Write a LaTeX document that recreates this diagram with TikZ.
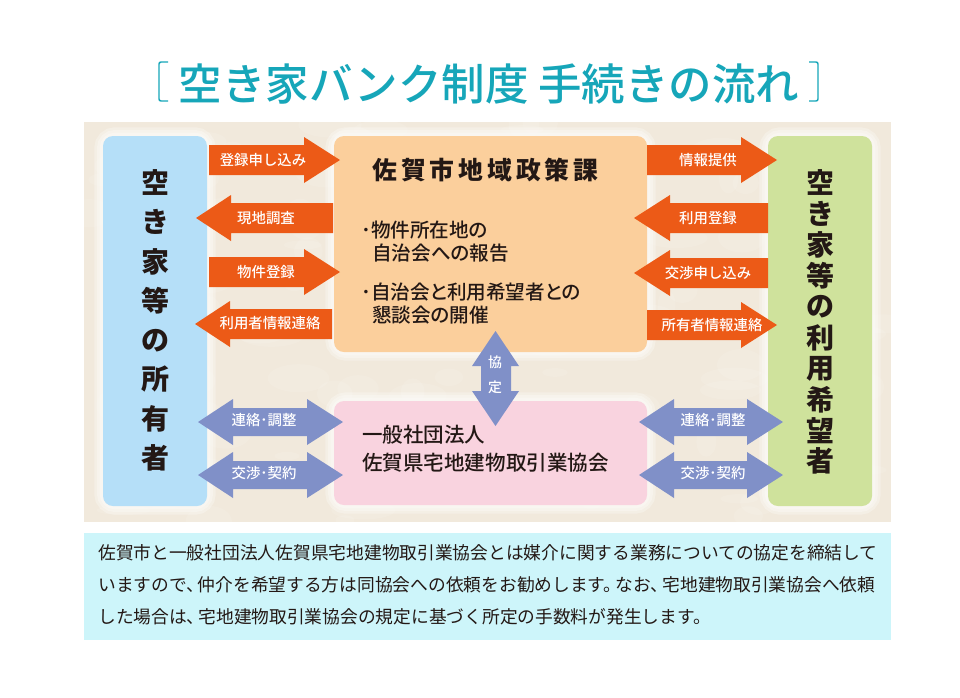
\documentclass[tikz,border=0pt]{standalone}
\usepackage{fontspec}
\setmainfont{Noto Sans CJK JP}
\newfontfamily\medfont{Noto Sans CJK JP Medium}
\definecolor{paper}{HTML}{F1E9DC}
\definecolor{titlec}{HTML}{16A6B9}
\definecolor{ownerc}{HTML}{B5DFF8}
\definecolor{cityc}{HTML}{FBCF9C}
\definecolor{assocc}{HTML}{F9D3DF}
\definecolor{userc}{HTML}{CFE29C}
\definecolor{noteC}{HTML}{CDF5FA}
\definecolor{orangeA}{HTML}{EC5A17}
\definecolor{blueA}{HTML}{8090C8}
\definecolor{inkc}{HTML}{231815}
\newcommand{\fs}[1]{\fontsize{#1}{#1}\selectfont}
\newcommand{\pn}{\hspace{-4.6pt}}
\newcommand{\blockarrow}[5]{% cy, tail, base, tip, colour
  \fill[#5] (#2,#1-15) -- (#3,#1-15) -- (#3,#1-23) -- (#4,#1) -- (#3,#1+23) -- (#3,#1+15) -- (#2,#1+15) -- cycle;}
\newcommand{\twoway}[6]{% cy, tipL, baseL, baseR, tipR, colour
  \fill[#6] (#2,#1) -- (#3,#1-23) -- (#3,#1-14) -- (#4,#1-14) -- (#4,#1-23) -- (#5,#1) -- (#4,#1+23) -- (#4,#1+14) -- (#3,#1+14) -- (#3,#1+23) -- cycle;}
\tikzset{
  panel/.style={rounded corners=7.5pt,inner sep=0pt,outer sep=0pt},
  arrowlabel/.style={text=white,font=\medfont\fs{10.8},inner sep=0pt},
  bigchar/.style={text=inkc,font=\fs{21}\bfseries,inner sep=0pt},
  bodytext/.style={text=inkc,font=\medfont\fs{14.7}\addfontfeature{RawFeature=+palt},inner sep=0pt,anchor=west},
  assoctext/.style={text=inkc,font=\medfont\fs{15.4},inner sep=0pt,anchor=west},
  notetext/.style={text=inkc,font=\fs{13.3},inner sep=0pt,anchor=west},
  glow/.style={draw=white,rounded corners=9pt,opacity=.28}
}
\begin{document}
\begin{tikzpicture}[x=0.75pt,y=-0.75pt]
\useasboundingbox (0,0) rectangle (960,697);
\fill[white] (0,0) rectangle (960,697);
% title
\node[text=titlec,font=\medfont\fs{32.6},inner sep=0pt] (title) at (489,84) {空き家バンク制度 手続きの流れ};
\draw[titlec,line width=1.1pt,rounded corners=1.5pt] (168,62) -- (159,62) -- (159,101) -- (168,101);
\draw[titlec,line width=1.1pt,rounded corners=1.5pt] (809,62) -- (818,62) -- (818,101) -- (809,101);
% paper ground
\fill[paper] (84,122) rectangle (891,522);
\begin{scope}
\clip (84,122) rectangle (891,522);
\pgfmathsetseed{7}
\foreach \n in {1,...,160}{
  \fill[white,opacity=.10] ({84+rnd*807},{122+rnd*400}) ellipse ({8+rnd*26} and {4+rnd*12});
}
\end{scope}
\foreach \a/\b/\c/\d in {103/136/207/506,334/136/647/352,334/401/647/505,768/136/872/506}{
  \foreach \w in {13,9,5}{
    \draw[glow,line width=\w pt] (\a,\b) rectangle (\c,\d);
  }
}
% panels
\node[panel,fill=ownerc,minimum width=78pt,minimum height=277.5pt] (owner) at (155,321) {};
\node[panel,fill=cityc,minimum width=234.75pt,minimum height=162pt] (city) at (490.5,244) {};
\node[panel,fill=assocc,minimum width=234.75pt,minimum height=78pt] (assoc) at (490.5,453) {};
\node[panel,fill=userc,minimum width=78pt,minimum height=277.5pt] (user) at (820,321) {};
% left orange arrows
\blockarrow{160}{209}{304}{340}{orangeA}
\blockarrow{218}{333}{231}{196}{orangeA}
\blockarrow{272}{209}{304}{340}{orangeA}
\blockarrow{324}{332}{230}{195}{orangeA}
% right orange arrows
\blockarrow{160}{647}{741}{777}{orangeA}
\blockarrow{218}{768}{670}{634}{orangeA}
\blockarrow{273}{768}{670}{634}{orangeA}
\blockarrow{325}{647}{741}{777}{orangeA}
% blue arrows
\twoway{422}{198}{233}{307}{343}{blueA}
\twoway{475}{198}{233}{307}{343}{blueA}
\twoway{422}{639}{674}{747}{783}{blueA}
\twoway{475}{639}{674}{747}{783}{blueA}
\fill[blueA] (495.5,331) -- (519,366) -- (511,366) -- (511,391) -- (519,391) -- (495.5,426) -- (472,391) -- (481,391) -- (481,366) -- (472,366) -- cycle;
% arrow labels
\node[arrowlabel] (a1) at (263,160) {登録申し込み};
\node[arrowlabel] (a2) at (266,218) {現地調査};
\node[arrowlabel] (a3) at (266,272) {物件登録};
\node[arrowlabel] (a4) at (270,323) {利用者情報連絡};
\node[arrowlabel] (b1) at (708,160) {情報提供};
\node[arrowlabel] (b2) at (708,218) {利用登録};
\node[arrowlabel] (b3) at (708,273) {交渉申し込み};
\node[arrowlabel] (b4) at (712,325) {所有者情報連絡};
\node[arrowlabel] (c1) at (264,420) {連絡･調整};
\node[arrowlabel] (c2) at (264,473) {交渉･契約};
\node[arrowlabel] (c3) at (713,420) {連絡･調整};
\node[arrowlabel] (c4) at (713,473) {交渉･契約};
\node[arrowlabel,font=\medfont\fs{10.4}] (k1) at (495,362) {協};
\node[arrowlabel,font=\medfont\fs{10.4}] (k2) at (495,387) {定};
% vertical labels
\foreach \t [count=\i from 0] in {空,き,家,等,の,所,有,者}{
  \node[bigchar] (own\i) at (155,183+39.3*\i) {\t};
}
\foreach \t [count=\i from 0] in {空,き,家,等,の,利,用,希,望,者}{
  \node[bigchar] (usr\i) at (820,183+30.9*\i) {\t};
}
% city text
\node[text=inkc,font=\fs{18.6}\bfseries\addfontfeature{LetterSpace=16},inner sep=0pt,anchor=west] (cityname) at (372,170) {佐賀市地域政策課};
\node[bodytext] (t1) at (361,230) {･物件所在地の};
\node[bodytext] (t2) at (372,253) {自治会への報告};
\node[bodytext] (t3) at (361,292) {･自治会と利用希望者との};
\node[bodytext] (t4) at (372,315) {懇談会の開催};
% association text
\node[assoctext] (p1) at (362,435) {一般社団法人};
\node[assoctext] (p2) at (362,463) {佐賀県宅地建物取引業協会};
% note
\fill[noteC] (84,533) rectangle (891,640);
\node[notetext] (n1) at (98,553) {佐賀市と一般社団法人佐賀県宅地建物取引業協会とは媒介に関する業務についての協定を締結して};
\node[notetext] (n2) at (98,585) {いますので、\pn 仲介を希望する方は同協会への依頼をお勧めします。\pn なお、\pn 宅地建物取引業協会へ依頼};
\node[notetext] (n3) at (98,617) {した場合は、\pn 宅地建物取引業協会の規定に基づく所定の手数料が発生します。};
\end{tikzpicture}
\end{document}
